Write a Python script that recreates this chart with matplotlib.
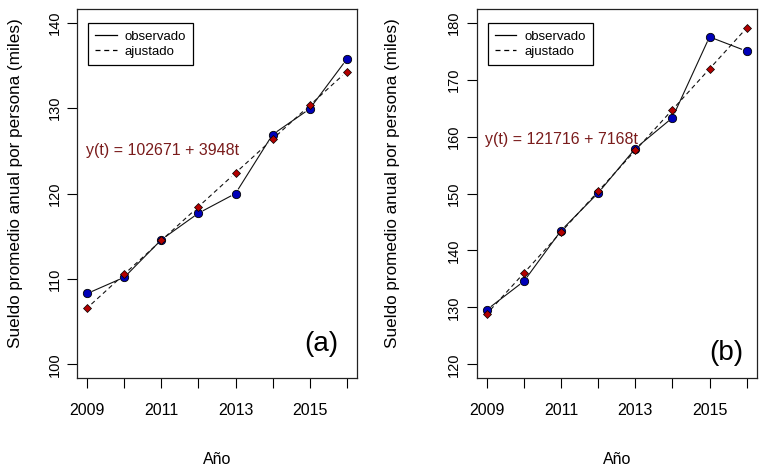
import matplotlib
matplotlib.use("Agg")
import matplotlib.pyplot as plt
import numpy as np

plt.rcParams['font.family'] = ['Liberation Sans', 'DejaVu Sans']

years = [2009, 2010, 2011, 2012, 2013, 2014, 2015, 2016]

# panel (a)
obs_a = [108.3, 110.2, 114.6, 117.7, 120.0, 126.9, 129.9, 135.7]
fit_a = [106.62, 110.57, 114.52, 118.46, 122.41, 126.36, 130.31, 134.26]
eq_a = "y(t) = 102671 + 3948t"

# panel (b)
obs_b = [129.6, 134.6, 143.5, 150.1, 157.9, 163.3, 177.5, 175.0]
fit_b = [128.88, 136.05, 143.22, 150.39, 157.56, 164.72, 171.89, 179.06]
eq_b = "y(t) = 121716 + 7168t"

EQ_COL = '#7a1c1c'
BLUE = '#0000b8'
RED = '#b30000'


def gapped_line(ax, x, y, gap=5.5, **kw):
    # R type="b": segments stop short of the points
    pts = ax.transData.transform(np.column_stack([x, y]))
    inv = ax.transData.inverted()
    for p, q in zip(pts[:-1], pts[1:]):
        d = q - p
        L = np.hypot(*d)
        if L <= 2 * gap:
            continue
        u = d / L
        a = inv.transform(p + u * gap)
        b = inv.transform(q - u * gap)
        ax.plot([a[0], b[0]], [a[1], b[1]], **kw)


def panel(ax, obs, fit, eq, ylim, yticks, eq_pos, tag, tag_pos, ylab_x, leg_x):
    ax.set_xlim(2009 - 0.28, 2016 + 0.28)
    ext = (ylim[1] - ylim[0]) * 0.04
    ax.set_ylim(ylim[0] - ext, ylim[1] + ext)

    gapped_line(ax, years, obs, color='#111111', lw=0.8, ls='-')
    gapped_line(ax, years, fit, color='#111111', lw=0.8, ls=(0, (4, 3)))

    ax.plot(years, obs, 'o', ms=6, mfc=BLUE, mec='black', mew=0.6, zorder=4)
    ax.plot(years, fit, 'D', ms=4.2, mfc=RED, mec='black', mew=0.5, zorder=5)

    # legend entries (lines only)
    ax.plot([], [], color='black', lw=0.9, ls='-', label='observado')
    ax.plot([], [], color='black', lw=0.9, ls=(0, (4, 3)), label='ajustado')
    leg = ax.legend(loc='upper left', bbox_to_anchor=(leg_x, 0.962), borderaxespad=0,
                    fontsize=9.5, handlelength=1.6, handletextpad=0.6,
                    labelspacing=0.25, borderpad=0.55,
                    fancybox=False, framealpha=1)
    leg.get_frame().set_edgecolor('black')
    leg.get_frame().set_linewidth(0.9)

    ax.text(eq_pos[0], eq_pos[1], eq, ha='left', va='center',
            fontsize=11.5, color=EQ_COL)
    ax.text(tag_pos[0], tag_pos[1], tag, ha='center', va='center', fontsize=20)

    ax.set_xticks(years)
    ax.set_xticklabels([str(y) if (y - 2009) % 2 == 0 else '' for y in years])
    ax.set_yticks(yticks)
    ax.tick_params(axis='x', length=7, width=0.8, labelsize=11.5, pad=11)
    ax.tick_params(axis='y', length=7, width=0.8, labelsize=10.5, pad=4,
                   labelrotation=90)
    for lab in ax.get_yticklabels():
        lab.set_va('center')

    for s in ax.spines.values():
        s.set_linewidth(0.9)
        s.set_color('#222222')

    ax.set_xlabel('Año', fontsize=11.5)
    ax.xaxis.set_label_coords(0.5, -0.222)
    ax.xaxis.label.set_va('center')
    ax.set_ylabel('Sueldo promedio anual por persona (miles)', fontsize=12.3)
    ax.yaxis.set_label_coords(ylab_x, 0.528)
    ax.yaxis.label.set_va('center')


fig = plt.figure(figsize=(7.6, 4.71), dpi=100)
H = 471.0
W = 760.0
ax1 = fig.add_axes([77 / W, 1 - 378 / H, 280 / W, 369 / H])
ax2 = fig.add_axes([476.5 / W, 1 - 378 / H, 280.5 / W, 369 / H])

panel(ax1, obs_a, fit_a, eq_a, (100, 140), [100, 110, 120, 130, 140],
      (2008.96, 125), '(a)', (2015.32, 102.4), (15 - 77) / 280, 0.04)
panel(ax2, obs_b, fit_b, eq_b, (120, 180), [120, 130, 140, 150, 160, 170, 180],
      (2008.95, 159.4), '(b)', (2015.46, 122.0), (393 - 476.5) / 280.5, 0.04)

fig.savefig('out.png', dpi=100)
